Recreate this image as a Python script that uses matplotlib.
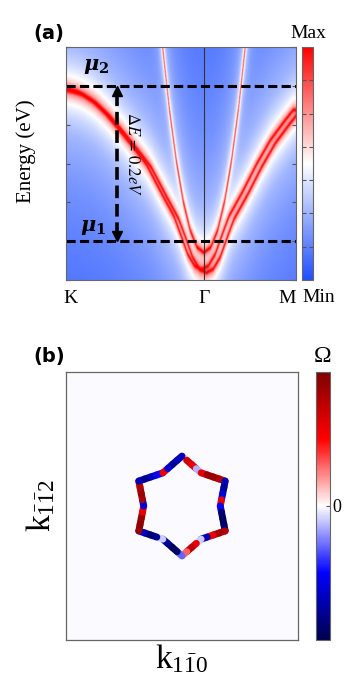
import numpy as np
import matplotlib
matplotlib.use('Agg')
import matplotlib.pyplot as plt
from matplotlib.colors import LinearSegmentedColormap, Normalize
from matplotlib.collections import LineCollection
import matplotlib.cm as cm

plt.rcParams['font.family'] = ['Liberation Serif', 'DejaVu Serif']
plt.rcParams['mathtext.fontset'] = 'custom'
plt.rcParams['mathtext.it'] = 'DejaVu Serif:italic:bold'
plt.rcParams['mathtext.rm'] = 'DejaVu Serif:bold'
plt.rcParams['mathtext.bf'] = 'DejaVu Serif:bold'

# ---- panel (a): bands along K - Gamma - M (Gamma at k = 0), energy in eV
k_range = (-1.0, 0.667)
broad_k = [-1.0, -0.9, -0.8, -0.7, -0.6, -0.5, -0.4, -0.3, -0.2, -0.15, -0.1, -0.05, 0.0,
           0.05, 0.1, 0.15, 0.2, 0.3, 0.4, 0.5, 0.6, 0.667]
broad_E = [0.196, 0.191, 0.180, 0.163, 0.142, 0.120, 0.097, 0.063, 0.030, 0.006, -0.019, -0.034, -0.039,
           -0.034, -0.019, 0.006, 0.030, 0.062, 0.097, 0.128, 0.152, 0.167]
thin_k = [-1.0, -0.4, -0.32, -0.3, -0.25, -0.2, -0.15, -0.1, -0.05, 0.0,
          0.05, 0.1, 0.15, 0.2, 0.25, 0.3, 0.32, 0.4, 0.667]
thin_E = [2.9, 0.455, 0.286, 0.250, 0.169, 0.103, 0.051, 0.014, -0.008, -0.015,
          -0.008, 0.014, 0.051, 0.103, 0.169, 0.250, 0.286, 0.455, 1.29]
split_k = 0.018
split_E = 0.002
mu1, mu2 = 0.0, 0.2
e_ticks = [-0.05, 0.0, 0.05, 0.1, 0.15, 0.2, 0.25]
k_ticks = [-0.97, 0.0, 0.60]
k_labels = ['K', 'Γ', 'M']

# ---- panel (b): Fermi contour (polar) and Berry curvature along it
star_ang = [90, 60, 30, 0, -30, -60, -90, -120, -150, -180, -210, -240, -270]
star_r = [0.43, 0.33, 0.43, 0.33, 0.43, 0.33, 0.43, 0.33, 0.43, 0.33, 0.43, 0.33, 0.43]
omega = [0.15, 0.7, 0.6, -0.15,
         0.6, 0.9, 0.9, 0.8,
         -0.7, -0.8, -0.6, 0.6,
         -0.5, -0.9, -0.95, -0.9,
         0.8, 0.85, 0.6, -0.7,
         -0.1, 0.6, 0.75, 0.3,
         -0.3, -0.9, -0.95, -0.8,
         -0.1, -0.8, -0.9, -0.7,
         0.9, 0.95, 0.9, 0.6,
         -0.6, 0.85, 0.9, 0.8,
         -0.7, -0.8, -0.7, -0.5,
         0.6, -0.6, -0.8, -0.7]

fig = plt.figure(figsize=(3.52, 6.94), dpi=100)

# ================= (a)
ax = fig.add_axes([0.1875, 0.5965, 0.6534, 0.3357])
kg = np.linspace(k_range[0], k_range[1], 460)
eg = np.linspace(e_ticks[0], e_ticks[-1], 470)
K, E = np.meshgrid(kg, eg)
b1 = np.interp(kg - split_k, broad_k, broad_E) - split_E
b2 = np.interp(kg + split_k, broad_k, broad_E) + split_E
b3 = np.interp(kg, thin_k, thin_E)
g = 0.0013
A = sum(g**2 / ((E - b)**2 + g**2) for b in (b1, b2, b3))
L = np.log10(A + 1e-6)
V = np.interp(L, [-5.0, -4.0, -3.0, -2.0, -1.0, -0.4, 0.0],
              [0.03, 0.15, 0.3, 0.5, 0.72, 0.92, 1.0])
spec = LinearSegmentedColormap.from_list('spec', ['#1e4fff', '#ffffff', '#ff0000'])
ax.imshow(V, origin='lower', aspect='auto', cmap=spec,
          extent=[kg[0], kg[-1], eg[0], eg[-1]], vmin=0, vmax=1,
          interpolation='bilinear')
ax.axvline(0, color='#333333', lw=0.8)
for m in (mu1, mu2):
    ax.axhline(m, color='k', lw=2.2, ls=(0, (3, 1.4)))
xa = -0.63
ax.plot([xa, xa], [mu1 + 0.008, mu2 - 0.008], color='k', lw=2.6, ls=(0, (3.5, 1.6)))
ax.plot([xa], [mu2 - 0.007], marker='^', color='k', ms=7)
ax.plot([xa], [mu1 + 0.007], marker='v', color='k', ms=7)
ax.text(-0.52, 0.112, r'$\Delta E\,=\,0.2eV$', rotation=-90, ha='center', va='center',
        fontsize=12, math_fontfamily='stix')
ax.text(-0.88, mu2 + 0.013, r'$\mu_2$', fontsize=15, ha='left', va='bottom',
        math_fontfamily='custom')
ax.text(-0.9, mu1 + 0.005, r'$\mu_1$', fontsize=15, ha='left', va='bottom',
        math_fontfamily='custom')
ax.set_xlim(*k_range)
ax.set_ylim(eg[0], eg[-1])
ax.set_yticks(e_ticks)
ax.set_yticklabels([])
ax.tick_params(axis='y', direction='in', length=3, color='#555555', left=True, right=True)
ax.set_xticks(k_ticks)
ax.set_xticklabels(k_labels, fontsize=14)
ax.tick_params(axis='x', length=0, pad=7)
ax.set_ylabel('Energy (eV)', fontsize=15)
ax.yaxis.set_label_coords(-0.13, 0.554)
for s in ax.spines.values():
    s.set_color('#666666')
    s.set_linewidth(0.8)
fig.text(0.14, 0.952, '(a)', fontsize=14, fontweight='bold', family='DejaVu Sans',
         ha='center', va='center')

cax = fig.add_axes([0.858, 0.5965, 0.03125, 0.3357])
cb = fig.colorbar(cm.ScalarMappable(norm=Normalize(0, 7), cmap=spec), cax=cax)
cb.set_ticks(list(range(1, 7)))
cb.set_ticklabels([])
cax.tick_params(direction='in', length=3, color='#555555', left=True, right=True)
cb.outline.set_edgecolor('#666666')
cb.outline.set_linewidth(0.8)
fig.text(0.875, 0.952, 'Max', fontsize=14, ha='center', va='center')
fig.text(0.905, 0.572, 'Min', fontsize=14, ha='center', va='center')

# ================= (b)
bx = fig.add_axes([0.1875, 0.0778, 0.659, 0.3862])
bx.set_facecolor('#fafaff')
ang = np.radians(star_ang)
vx = np.array(star_r) * np.cos(ang)
vy = np.array(star_r) * np.sin(ang)
segs = []
nsub = 4
for i in range(len(vx) - 1):
    for j in range(nsub):
        t0, t1 = j / nsub, (j + 1) / nsub
        segs.append([(vx[i] + (vx[i + 1] - vx[i]) * t0, vy[i] + (vy[i + 1] - vy[i]) * t0),
                     (vx[i] + (vx[i + 1] - vx[i]) * t1, vy[i] + (vy[i + 1] - vy[i]) * t1)])
lc = LineCollection(segs, cmap='seismic', norm=Normalize(-1, 1), linewidths=5,
                    capstyle='round')
lc.set_array(np.array(omega))
bx.add_collection(lc)
bx.set_xlim(-1, 1)
bx.set_ylim(-268 / 232, 268 / 232)
bx.set_xticks([])
bx.set_yticks([])
for s in bx.spines.values():
    s.set_color('#666666')
    s.set_linewidth(0.9)
bx.set_xlabel(r'$\mathregular{k_{1\bar{1}0}}$', fontsize=24, math_fontfamily='stix', labelpad=2)
bx.set_ylabel(r'$\mathregular{k_{\bar{1}\bar{1}2}}$', fontsize=24, math_fontfamily='stix', labelpad=6)
fig.text(0.14, 0.486, '(b)', fontsize=14, fontweight='bold', family='DejaVu Sans',
         ha='center', va='center')

cbx = fig.add_axes([0.8977, 0.0778, 0.0398, 0.3862])
cb2 = fig.colorbar(cm.ScalarMappable(norm=Normalize(-1, 1), cmap='seismic'), cax=cbx)
cb2.set_ticks([0])
cb2.set_ticklabels(['0'])
cbx.tick_params(direction='in', length=3, color='#555555', labelsize=13, pad=2)
cb2.outline.set_edgecolor('#666666')
fig.text(0.915, 0.486, 'Ω', fontsize=17, ha='center', va='center')

fig.savefig('out.png', dpi=100)
